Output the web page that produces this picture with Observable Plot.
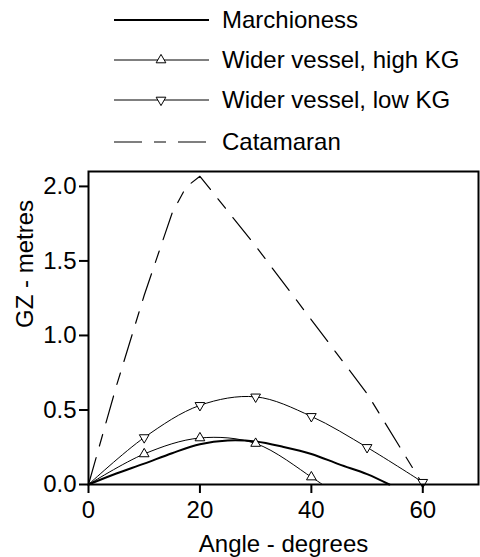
<!DOCTYPE html>
<html>
<head>
<meta charset="utf-8">
<script src="https://cdn.jsdelivr.net/npm/d3@7"></script>
<script src="https://cdn.jsdelivr.net/npm/@observablehq/plot@0.6"></script>
<style>
  html, body { margin: 0; padding: 0; background: white; }
  #chart { width: 480px; font-family: "Liberation Sans", Arial, sans-serif; }
  #legend { display: block; }
</style>
</head>
<body>
<div id="chart"></div>
<script>
// ---- Data ----
const seriesNames = ["Marchioness", "Wider vessel, high KG", "Wider vessel, low KG", "Catamaran"];

const marchAngle = [0, 5, 10, 15, 20, 25, 30, 35, 40, 45, 50, 54];
const marchGZ    = [0, 0.074, 0.14, 0.21, 0.27, 0.295, 0.288, 0.252, 0.205, 0.135, 0.07, 0];

const highAngle = [0, 10, 20, 30, 40, 42];
const highGZ    = [0, 0.205, 0.312, 0.275, 0.05, 0];
const highMarkerAngle = [10, 20, 30, 40];

const lowAngle = [0, 10, 20, 30, 40, 50, 60];
const lowGZ    = [0, 0.315, 0.531, 0.588, 0.457, 0.249, 0.015];
const lowMarkerAngle = [10, 20, 30, 40, 50, 60];

const catAngle = [0, 5, 10, 15, 17.5, 20, 30, 40, 50, 60];
const catGZ    = [0, 0.66, 1.27, 1.82, 1.995, 2.068, 1.60, 1.105, 0.61, 0];

const xTicks = [0, 20, 40, 60];
const yTicks = [0, 0.5, 1.0, 1.5, 2.0];
const xLabel = "Angle - degrees";
const yLabel = "GZ - metres";

// ---- Build tables ----
const rows = (a, v) => a.map((x, i) => ({x, y: v[i]}));
const march = rows(marchAngle, marchGZ);
const high = rows(highAngle, highGZ);
const low = rows(lowAngle, lowGZ);
const cat = rows(catAngle, catGZ);
const highMarkers = high.filter(d => highMarkerAngle.includes(d.x));
const lowMarkers = low.filter(d => lowMarkerAngle.includes(d.x));

const FONT = '"Liberation Sans", Arial, sans-serif';
const DASH = "28,12,12,12";
const TRI_R = 3.6;

// ---- Legend (above the plot) ----
const legendH = 160;
const leg = d3.create("svg")
  .attr("id", "legend")
  .attr("width", 480).attr("height", legendH)
  .style("font-family", FONT).style("font-size", "24px");
const rowY = [20, 60, 100, 142];
const styles = [
  {w: 2, dash: null, marker: null},
  {w: 1, dash: null, marker: 0},
  {w: 1, dash: null, marker: 180},
  {w: 1.2, dash: DASH, marker: null}
];
seriesNames.forEach((name, i) => {
  const y = rowY[i], s = styles[i];
  const ln = leg.append("line").attr("x1", 114).attr("x2", 209).attr("y1", y).attr("y2", y)
    .attr("stroke", "black").attr("stroke-width", s.w);
  if (s.dash) ln.attr("stroke-dasharray", s.dash);
  if (s.marker !== null) {
    leg.append("path")
      .attr("d", d3.symbol(d3.symbolTriangle, Math.PI * TRI_R * TRI_R)())
      .attr("transform", `translate(161,${y}) rotate(${s.marker})`)
      .attr("fill", "white").attr("stroke", "black").attr("stroke-width", 1);
  }
  leg.append("text").attr("x", 222).attr("y", y).attr("dy", "0.35em")
    .attr("fill", "black").text(name);
});

// ---- Plot ----
const plot = Plot.plot({
  width: 480,
  height: 397,
  marginLeft: 88,
  marginRight: 2,
  marginTop: 11,
  marginBottom: 73,
  x: {domain: [0, 70]},
  y: {domain: [0, 2.1]},
  style: {fontSize: "24px", fontFamily: FONT, background: "white", color: "black", overflow: "visible"},
  marks: [
    Plot.line(march, {x: "x", y: "y", stroke: "black", strokeWidth: 2, curve: "catmull-rom"}),
    Plot.line(high, {x: "x", y: "y", stroke: "black", strokeWidth: 1, curve: "catmull-rom"}),
    Plot.line(low, {x: "x", y: "y", stroke: "black", strokeWidth: 1, curve: "catmull-rom"}),
    Plot.line(cat, {x: "x", y: "y", stroke: "black", strokeWidth: 1.2, strokeDasharray: DASH, curve: "linear"}),
    Plot.dot(highMarkers, {x: "x", y: "y", symbol: "triangle", r: TRI_R, fill: "white", stroke: "black", strokeWidth: 1}),
    Plot.dot(lowMarkers, {x: "x", y: "y", symbol: "triangle", rotate: 180, r: TRI_R, fill: "white", stroke: "black", strokeWidth: 1}),
    Plot.frame({stroke: "black", strokeWidth: 2}),
    Plot.axisX({ticks: xTicks, tickSize: 9, tickPadding: 7, strokeWidth: 2, label: null, tickFormat: d3.format("d")}),
    Plot.axisY({ticks: yTicks, tickSize: 9, tickPadding: 3, strokeWidth: 2, label: null, tickFormat: d3.format(".1f")}),
    Plot.text([yLabel], {text: d => d, frameAnchor: "left", dx: -63, rotate: -90, fill: "black"}),
    Plot.text([xLabel], {text: d => d, frameAnchor: "bottom", dy: 60, lineAnchor: "middle", fill: "black"})
  ]
});

const chart = document.getElementById("chart");
chart.appendChild(leg.node());
chart.appendChild(plot);
</script>
</body>
</html>
